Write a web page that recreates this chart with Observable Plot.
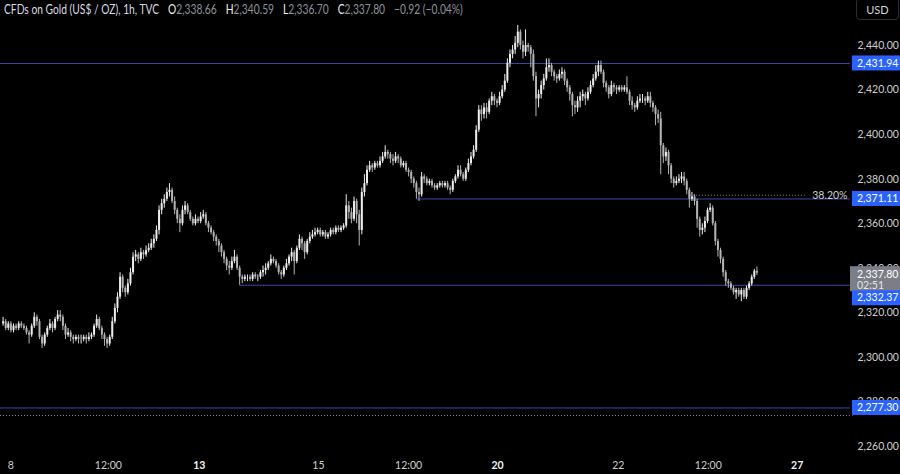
<!DOCTYPE html>
<html><head><meta charset="utf-8">
<script src="https://cdn.jsdelivr.net/npm/d3@7"></script>
<script src="https://cdn.jsdelivr.net/npm/@observablehq/plot@0.6"></script>
<style>
html,body{margin:0;padding:0;background:#000;}
#wrap{position:relative;width:900px;height:474px;background:#000;overflow:hidden;font-family:Lato,"Liberation Sans",sans-serif;}
#hdr{position:absolute;left:4px;top:2px;font-family:Lato,"Liberation Sans",sans-serif;font-size:12.5px;color:#d8dae0;white-space:nowrap;transform:scaleX(0.82);transform-origin:0 0;}
#hdr .k{color:#f0f0f0;margin-left:11px}
#hdr .v{color:#8f939c}
#usd{position:absolute;left:856px;top:-2px;width:43px;height:22px;border:1px solid #2a2e39;border-radius:4px;color:#d1d4dc;font-size:11px;text-align:center;line-height:22px;box-sizing:border-box}
</style></head>
<body><div id="wrap"><div id="chart"></div><div id="hdr"></div><div id="usd">USD</div></div>
<script>
// ---- data (1h candles) ----
const firstOpen = 2315;
const closes = [
2316,2313,2315,2312,2314,2313,2315,2314,2313,2311,
2310,2314,2318,2316,2309,2306,2310,2313,2315,2313,
2317,2319,2318,2314,2310,2311,2309,2308,2309,2308,
2308,2309,2308,2309,2310,2314,2317,2313,2310,2308,
2306,2309,2316,2322,2327,2336,2331,2329,2333,2338,
2345,2346,2344,2347,2346,2348,2349,2351,2353,2357,
2366,2369,2371,2374,2375,2370,2366,2362,2360,2366,
2368,2365,2362,2360,2362,2361,2363,2364,2360,2358,
2356,2354,2352,2350,2347,2344,2341,2340,2343,2345,
2340,2336,2335,2336,2336,2335,2337,2336,2336,2338,
2339,2340,2342,2344,2343,2341,2338,2337,2340,2342,
2345,2347,2343,2349,2353,2351,2347,2352,2354,2355,
2356,2357,2355,2356,2354,2355,2357,2356,2358,2357,
2358,2359,2368,2365,2362,2370,2364,2357,2374,2378,
2384,2386,2385,2387,2386,2388,2390,2392,2391,2389,
2388,2390,2389,2386,2387,2384,2383,2380,2378,2374,
2373,2381,2380,2378,2379,2377,2376,2377,2378,2377,
2378,2376,2375,2379,2381,2384,2382,2380,2384,2387,
2390,2393,2402,2411,2409,2412,2410,2415,2417,2415,
2414,2417,2420,2424,2432,2436,2438,2441,2446,2440,
2437,2440,2439,2436,2426,2416,2418,2422,2425,2430,
2431,2428,2426,2425,2427,2428,2424,2421,2418,2413,
2412,2415,2417,2418,2416,2419,2422,2425,2428,2431,
2428,2423,2421,2418,2422,2421,2420,2421,2420,2421,
2419,2415,2413,2412,2415,2416,2416,2415,2417,2414,
2412,2409,2407,2395,2390,2392,2386,2380,2378,2379,
2380,2381,2379,2375,2371,2372,2370,2362,2357,2358,
2361,2366,2367,2360,2352,2348,2344,2338,2334,2333,
2331,2329,2330,2328,2330,2327,2331,2333,2336,2338.66,2337.80];
const highs = [
2318,2317,2316,2316,2315,2315,2316,2316,2315,2314,
2312,2315,2320,2319,2317,2310,2311,2314,2317,2316,
2318,2321,2321,2319,2315,2313,2312,2310,2310,2310,
2310,2310,2310,2311,2311,2315,2319,2318,2314,2311,
2309,2310,2318,2324,2329,2338,2337,2332,2335,2340,
2347,2348,2347,2349,2348,2350,2351,2353,2355,2359,
2368,2371,2373,2376,2378,2376,2372,2367,2364,2368,
2370,2369,2366,2363,2364,2363,2365,2366,2365,2361,
2359,2357,2355,2353,2351,2348,2345,2343,2345,2348,
2346,2341,2337,2337,2337,2337,2338,2338,2337,2339,
2341,2342,2343,2346,2345,2344,2342,2339,2341,2344,
2346,2349,2348,2350,2355,2354,2352,2353,2356,2357,
2358,2358,2358,2357,2357,2356,2358,2358,2359,2359,
2359,2360,2373,2370,2367,2372,2371,2366,2376,2382,
2386,2388,2387,2388,2388,2390,2392,2395,2393,2392,
2391,2392,2391,2390,2388,2388,2385,2384,2381,2379,
2376,2383,2382,2381,2380,2380,2378,2378,2379,2379,
2379,2379,2377,2380,2382,2386,2386,2383,2385,2389,
2392,2395,2404,2413,2413,2414,2414,2416,2419,2418,
2416,2419,2422,2427,2434,2438,2440,2444,2449,2447,
2442,2447,2441,2440,2438,2428,2420,2424,2427,2434,
2434,2432,2429,2427,2429,2430,2429,2425,2422,2419,
2415,2417,2419,2420,2419,2421,2424,2427,2431,2433,
2433,2429,2424,2422,2424,2423,2422,2422,2422,2422,
2426,2420,2417,2414,2417,2418,2418,2417,2419,2419,
2415,2413,2411,2410,2396,2394,2393,2387,2381,2381,
2382,2383,2383,2380,2376,2374,2373,2371,2363,2360,
2363,2367,2369,2368,2361,2353,2349,2345,2339,2335,
2334,2332,2331,2331,2331,2331,2332,2334,2337,2339.5,2340.59];
const lows = [
2314,2312,2312,2311,2311,2312,2312,2313,2312,2310,
2306,2309,2313,2314,2308,2304,2305,2309,2312,2311,
2312,2316,2316,2312,2308,2309,2307,2306,2307,2306,
2306,2307,2306,2307,2308,2309,2313,2312,2308,2305,
2304,2305,2308,2315,2320,2326,2329,2327,2328,2332,
2337,2343,2342,2343,2344,2345,2347,2348,2349,2352,
2355,2364,2367,2370,2372,2369,2364,2360,2356,2359,
2364,2364,2361,2359,2359,2360,2360,2362,2359,2356,
2355,2352,2350,2347,2345,2342,2339,2337,2339,2342,
2339,2332.4,2333,2334,2334,2334,2334,2335,2334,2335,
2336,2337,2339,2341,2342,2340,2337,2335,2336,2339,
2341,2343,2337,2342,2348,2348,2344,2346,2351,2353,
2354,2355,2354,2354,2353,2353,2354,2355,2355,2356,
2356,2357,2358,2362,2360,2361,2360,2350,2355,2372,
2377,2383,2383,2384,2385,2385,2387,2389,2389,2387,
2386,2387,2387,2385,2385,2383,2381,2378,2376,2371.1,
2370,2372,2378,2377,2377,2376,2375,2375,2376,2376,
2376,2375,2373,2374,2378,2380,2381,2379,2379,2383,
2386,2389,2392,2401,2406,2407,2407,2409,2413,2413,
2412,2413,2416,2419,2423,2430,2434,2436,2439,2438,
2434,2435,2437,2430,2424,2408,2412,2416,2420,2424,
2428,2426,2424,2423,2424,2425,2422,2419,2415,2408,
2409,2410,2412,2415,2413,2415,2418,2421,2424,2426,
2427,2421,2419,2416,2417,2419,2418,2419,2419,2419,
2418,2413,2411,2410,2411,2414,2414,2413,2414,2412,
2410,2404,2405,2382,2387,2388,2382,2378,2376,2377,
2378,2378,2377,2373,2367,2370,2368,2358,2354,2355,
2356,2360,2365,2359,2350,2345,2342,2336,2332,2331,
2330,2328,2326,2327,2325,2326,2326,2330,2332,2335,2336.70];

// price axis ticks
const yTicks = [2260,2280,2300,2320,2340,2360,2380,2400,2420,2440];
// time axis labels (bar index at which each label sits)
const xTickIdx = [3, 40.5, 75.5, 121.3, 156, 190.2, 236.7, 271.3, 305.5];
const xTickLabels = ["8","12:00","13","15","12:00","20","22","12:00","27"];
const weekStarts = ["13","20","27"];

// horizontal levels: price, first bar index
const levelPrices = [2431.94, 2371.11, 2332.37, 2277.30];
const levelStarts = [-1, 159, 91, -1];
// dotted fib levels
const fibPrices = [2372.8, 2273.9];
const fibStarts = [264.4, -1];
const fibEnds = [308.6, 327];
const fibLabels = ["38.20%", ""];

const lastTimer = "02:51";
const changeText = "\u22120.92 (\u22120.04%)";
const titleText = "CFDs on Gold (US$ / OZ), 1h, TVC";

// ---- build ----
const bars = closes.map((c, i) => ({
  i, open: i === 0 ? firstOpen : closes[i - 1], high: highs[i], low: lows[i], close: c
}));
const levels = levelPrices.map((p, k) => ({price: p, start: levelStarts[k], end: 326}));
const fibs = fibPrices.map((p, k) => ({price: p, start: fibStarts[k], end: fibEnds[k], label: fibLabels[k]}));
const xticks = xTickIdx.map((v, k) => ({i: v, label: xTickLabels[k], bold: weekStarts.includes(xTickLabels[k])}));

const UP = "#ececec", DOWN = "#b4b4b4";
const col = d => d.close >= d.open ? UP : DOWN;
const fmt = d3.format(",.2f");
const FONT = "Lato, 'Liberation Sans', sans-serif";

const chart = Plot.plot({
  width: 900, height: 474,
  marginLeft: 0, marginRight: 50, marginTop: 45, marginBottom: 28,
  style: {background: "#000", color: "#c9c9c9", fontFamily: FONT, fontSize: "10.5px"},
  x: {domain: [-1, 326], axis: null},
  y: {domain: [2260, 2440], axis: null},
  marks: [
    Plot.ruleY(levels, {y: "price", x1: "start", x2: "end", stroke: "#3b4aa3", strokeWidth: 1}),
    Plot.ruleY(fibs, {y: "price", x1: "start", x2: "end", stroke: "#8a8a8a", strokeWidth: 1, strokeDasharray: "1,2"}),
    Plot.text(fibs, {x: "end", y: "price", text: "label", textAnchor: "start", dx: 7, fill: "#cfcfcf", fontSize: 10.5}),
    Plot.ruleX(bars, {x: "i", y1: "low", y2: "high", stroke: col, strokeWidth: 1}),
    Plot.ruleX(bars, {x: "i", y1: "open", y2: "close", stroke: col, strokeWidth: 2}),
    Plot.axisY(yTicks, {anchor: "right", tickSize: 0, tickPadding: 7, tickFormat: fmt, fill: "#cfcfcf", fontSize: 10.5}),
    Plot.text(xticks.filter(d => !d.bold), {x: "i", text: "label", frameAnchor: "bottom", dy: 22, fill: "#cfcfcf", fontSize: 10.5}),
    Plot.text(xticks.filter(d => d.bold), {x: "i", text: "label", frameAnchor: "bottom", dy: 22, fill: "#f2f2f2", fontSize: 10.5, fontWeight: "bold"})
  ]
});
document.getElementById("chart").appendChild(chart);

// price tags on the right scale
const ys = chart.scale("y");
const g = d3.select(chart).append("g")
  .attr("font-size", 10.5).attr("font-family", FONT).attr("text-anchor", "start");
const last = bars[bars.length - 1];
// current price (grey, two lines)
{
  const y0 = ys.apply(last.close);
  g.append("rect").attr("x", 850).attr("y", y0 - 6.5).attr("width", 50).attr("height", 25).attr("fill", "#7b7e86");
  g.append("text").attr("x", 857).attr("y", y0 + 1.5).attr("dy", "0.32em").attr("fill", "#fff").text(fmt(last.close));
  g.append("text").attr("x", 857).attr("y", y0 + 13).attr("dy", "0.32em").attr("fill", "#e6e6e6").text(lastTimer);
}
levelPrices.forEach((p, k) => {
  let yc = ys.apply(p);
  if (k === 2) yc += 13; // pushed below the current-price tag
  g.append("rect").attr("x", 852).attr("y", yc - 7.5).attr("width", 48).attr("height", 15).attr("fill", "#2962ff");
  g.append("text").attr("x", 857).attr("y", yc).attr("dy", "0.34em").attr("fill", "#fff").text(fmt(p));
});

// header
const hdr = document.getElementById("hdr");
const parts = [["O", last.open], ["H", last.high], ["L", last.low], ["C", last.close]];
hdr.innerHTML = `<span>${titleText}</span>` +
  parts.map(([k, v]) => `<span class="k">${k}</span><span class="v">${fmt(v)}</span>`).join("") +
  `<span class="v" style="margin-left:11px">${changeText}</span>`;
</script>
</body></html>
